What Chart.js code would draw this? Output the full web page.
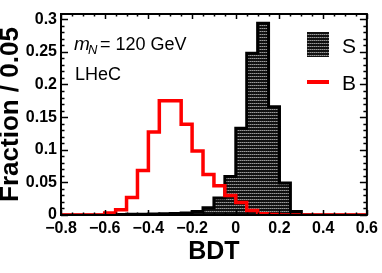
<!DOCTYPE html>
<html>
<head>
<meta charset="utf-8">
<script src="https://cdn.jsdelivr.net/npm/chart.js@4.4.1/dist/chart.umd.min.js"></script>
<style>
  html, body { margin: 0; padding: 0; background: #fff; }
  #wrap { width: 382px; height: 273px; }
</style>
</head>
<body>
<div id="wrap"><canvas id="bdtChart"></canvas></div>
<script>
// bin left edges (BDT), bin width 0.05
const binEdges = [-0.8, -0.75, -0.7, -0.65, -0.6, -0.55, -0.5, -0.45, -0.4, -0.35,
  -0.3, -0.25, -0.2, -0.15, -0.1, -0.05, 0, 0.05, 0.1, 0.15,
  0.2, 0.25, 0.3, 0.35, 0.4, 0.45, 0.5, 0.55, 0.6];

// fraction per bin (28 bins)
const signal = [0, 0, 0, 0, 0.0005, 0.0008, 0.001, 0.001, 0.0015, 0.0018,
  0.0022, 0.003, 0.0055, 0.011, 0.026, 0.059, 0.133, 0.248, 0.294, 0.166,
  0.049, 0.0055, 0.0005, 0, 0, 0, 0, 0];
const background = [0, 0, 0, 0, 0.003, 0.008, 0.027, 0.068, 0.127, 0.175,
  0.175, 0.139, 0.098, 0.062, 0.045, 0.030, 0.019, 0.007, 0.002, 0.0006,
  0, 0, 0, 0, 0, 0, 0, 0];

const xTicks = [-0.8, -0.6, -0.4, -0.2, 0, 0.2, 0.4, 0.6];
const yTicks = [0, 0.05, 0.1, 0.15, 0.2, 0.25, 0.3];

function toSteps(values) {
  const pts = values.map((v, i) => ({ x: binEdges[i], y: v }));
  pts.push({ x: binEdges[binEdges.length - 1], y: values[values.length - 1] });
  return pts;
}

function makeHatch(ctx) {
  const c = document.createElement("canvas");
  c.width = 2;
  c.height = 3;
  const p = c.getContext("2d");
  p.fillStyle = "#111";
  p.fillRect(0, 0, 2, 3);
  p.fillStyle = "#9a9a9a";
  p.fillRect(0, 1, 1, 1);
  p.fillStyle = "#5c5c5c";
  p.fillRect(1, 1, 1, 1);
  return ctx.createPattern(c, "repeat");
}

const canvas = document.getElementById("bdtChart");
const ctx = canvas.getContext("2d");
const hatch = makeHatch(ctx);

const sans = "'Liberation Sans', Arial, sans-serif";

// frame, inner ticks, text labels and legend
const decorations = {
  id: "decorations",
  afterDraw(chart) {
    const { ctx, chartArea: a, scales } = chart;
    const xs = scales.x, ys = scales.y;
    ctx.save();
    ctx.strokeStyle = "#000";
    ctx.lineWidth = 1.5;
    ctx.beginPath();
    for (let i = 0; i <= 28; i++) {
      const v = -0.8 + i * 0.05;
      const px = Math.round(xs.getPixelForValue(v)) + 0.5;
      const len = i % 4 === 0 ? 5 : 2.5;
      ctx.moveTo(px, a.bottom); ctx.lineTo(px, a.bottom - len);
      ctx.moveTo(px, a.top); ctx.lineTo(px, a.top + len);
    }
    for (let i = 0; i <= 30; i++) {
      const v = i * 0.01;
      const py = Math.round(ys.getPixelForValue(v)) + 0.5;
      const len = i % 5 === 0 ? 7 : 3.5;
      ctx.moveTo(a.left, py); ctx.lineTo(a.left + len, py);
      ctx.moveTo(a.right, py); ctx.lineTo(a.right - len, py);
    }
    ctx.stroke();
    ctx.lineWidth = 2;
    ctx.strokeRect(a.left, a.top, a.right - a.left, a.bottom - a.top);

    // annotation text
    ctx.fillStyle = "#000";
    ctx.textBaseline = "alphabetic";
    ctx.textAlign = "left";
    ctx.font = "italic 19px " + sans;
    ctx.fillText("m", 74, 50);
    ctx.font = "italic 13px " + sans;
    ctx.fillText("N", 88, 54);
    ctx.font = "18px " + sans;
    ctx.fillText("= 120 GeV", 100, 50);
    ctx.fillText("LHeC", 75, 80);

    // legend
    ctx.fillStyle = hatch;
    ctx.fillRect(307, 32, 22, 25);
    ctx.strokeStyle = "#ff0000";
    ctx.lineWidth = 4;
    ctx.beginPath();
    ctx.moveTo(307, 82); ctx.lineTo(329, 82);
    ctx.stroke();
    ctx.fillStyle = "#000";
    ctx.font = "21px " + sans;
    ctx.fillText("S", 342, 53);
    ctx.fillText("B", 342, 90);
    ctx.restore();
  }
};

const chart = new Chart(ctx, {
  type: "line",
  data: {
    datasets: [
      {
        label: "B",
        data: toSteps(background),
        stepped: true,
        borderColor: "#ff0000",
        borderWidth: 3.5,
        pointRadius: 0,
        fill: false,
        order: 0
      },
      {
        label: "S",
        data: toSteps(signal),
        stepped: true,
        borderColor: "#000",
        borderWidth: 3,
        backgroundColor: hatch,
        pointRadius: 0,
        fill: "origin",
        order: 1
      }
    ]
  },
  options: {
    responsive: true,
    maintainAspectRatio: false,
    animation: false,
    layout: { padding: { top: 14, right: 15, left: 0, bottom: 0 } },
    plugins: {
      legend: { display: false },
      tooltip: { enabled: false }
    },
    scales: {
      x: {
        type: "linear",
        min: -0.8,
        max: 0.6,
        grid: { display: false, drawTicks: false },
        border: { display: false },
        afterBuildTicks: (s) => { s.ticks = xTicks.map((v) => ({ value: v })); },
        afterFit: (s) => { s.height = 58; },
        ticks: {
          padding: 4,
          maxRotation: 0,
          color: "#000",
          font: { family: sans, size: 16, weight: "bold" },
          callback: (v) => (Math.abs(v) < 1e-9 ? "0" : v.toFixed(1).replace("-", "\u2212"))
        },
        title: {
          display: true,
          text: "BDT",
          color: "#000",
          padding: { top: 0, bottom: 8 },
          font: { family: sans, size: 25, weight: "bold", lineHeight: 1 }
        }
      },
      y: {
        min: 0,
        max: 0.308,
        grid: { display: false, drawTicks: false },
        border: { display: false },
        afterBuildTicks: (s) => { s.ticks = yTicks.map((v) => ({ value: v })); },
        afterFit: (s) => { s.width = 61; },
        ticks: {
          padding: 4,
          color: "#000",
          font: { family: sans, size: 16, weight: "bold" },
          callback: (v) => (v === 0 ? "0" : String(+v.toFixed(2)))
        },
        title: {
          display: true,
          text: "Fraction / 0.05",
          color: "#000",
          padding: 0,
          font: { family: sans, size: 26, weight: "bold", lineHeight: 0.8 }
        }
      }
    }
  },
  plugins: [decorations]
});
</script>
</body>
</html>
